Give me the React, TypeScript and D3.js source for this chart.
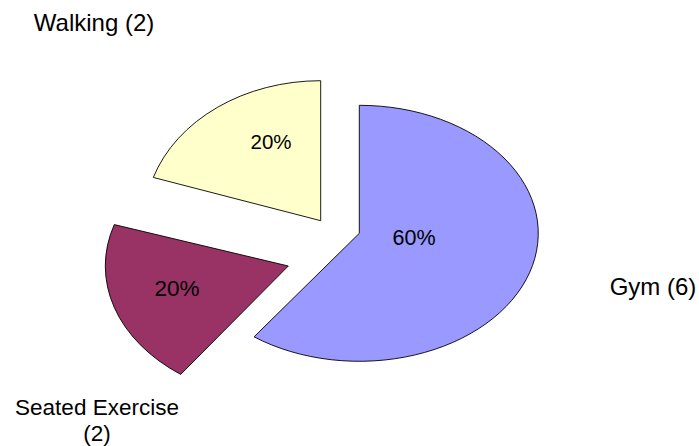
import React from "react";
import * as d3 from "d3";

const categories = ["Gym", "Seated Exercise", "Walking"];
const counts = [6, 2, 2];
const colors = ["#9999FF", "#993366", "#FFFFCC"];

// layout (screen) for each slice: vertex, radii, label positions
const sliceLayout = [
  { cx: 359.3, cy: 233.3, rx: 179, ry: 128, pctX: 414, pctY: 245, pctSize: 21.5 },
  { cx: 288.3, cy: 266, rx: 183, ry: 134, pctX: 177, pctY: 296, pctSize: 22.5 },
  { cx: 320.7, cy: 220.7, rx: 176, ry: 140, pctX: 271, pctY: 149, pctSize: 20.5 },
];
const catLabelLayout = [
  { x: 653, y: 295, size: 24, lead: 0, lines: ["Gym (6)"] },
  { x: 97, y: 415, size: 22.5, lead: 26, lines: ["Seated Exercise", "(2)"] },
  { x: 94, y: 31, size: 24, lead: 0, lines: ["Walking (2)"] },
];

export default function App() {
  const W = 699, H = 446;
  const total = d3.sum(counts);
  const pie = d3.pie<number>().sort(null).value((d) => d).startAngle(0).endAngle(2 * Math.PI);
  const arcs = pie(counts);
  const arc = d3.arc<d3.PieArcDatum<number>>().innerRadius(0).outerRadius(1);
  const font = "'Liberation Sans', Arial, sans-serif";
  return (
    <svg width={W} height={H} style={{ position: "absolute", left: 0, top: 0, background: "#fff" }}>
      {arcs.map((a, i) => {
        const L = sliceLayout[i];
        return (
          <path
            key={"s" + i}
            d={arc(a) || ""}
            transform={`translate(${L.cx},${L.cy}) scale(${L.rx},${L.ry})`}
            fill={colors[i]}
            stroke="#000"
            strokeWidth={0.9}
            vectorEffect="non-scaling-stroke"
          />
        );
      })}
      {arcs.map((a, i) => {
        const L = sliceLayout[i];
        return (
          <text key={"p" + i} x={L.pctX} y={L.pctY} textAnchor="middle" fontFamily={font} fontSize={L.pctSize} fill="#000">
            {Math.round((counts[i] / total) * 100) + "%"}
          </text>
        );
      })}
      {categories.map((c, i) => {
        const C = catLabelLayout[i];
        return C.lines.map((ln, j) => (
          <text key={"c" + i + "-" + j} x={C.x} y={C.y + j * C.lead} textAnchor="middle" fontFamily={font} fontSize={C.size} fill="#000">
            {ln}
          </text>
        ));
      })}
    </svg>
  );
}
